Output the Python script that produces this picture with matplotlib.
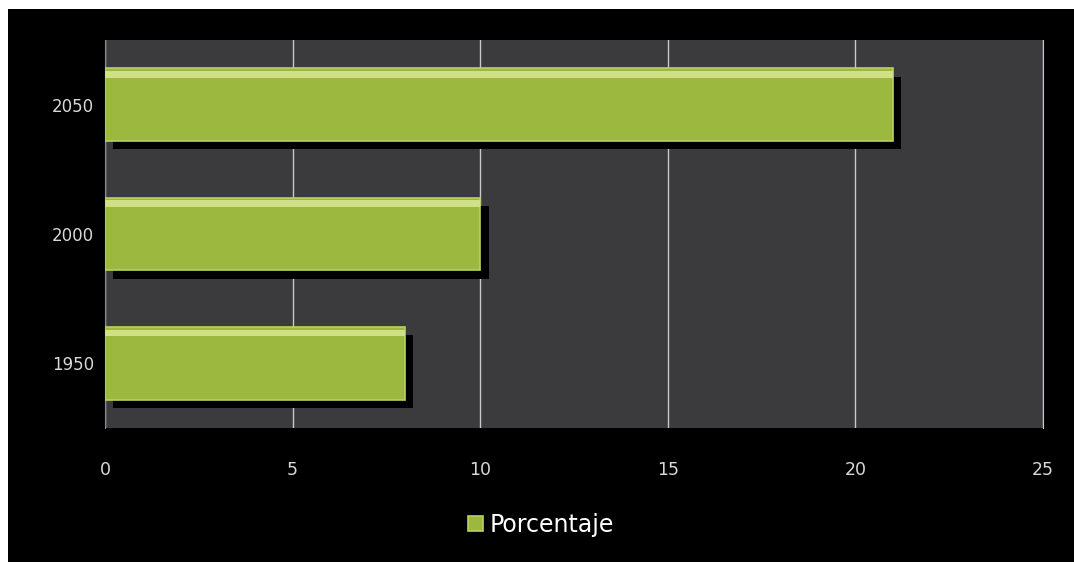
import matplotlib
matplotlib.use('Agg')
import matplotlib.pyplot as plt
import matplotlib.patheffects as pe
from matplotlib.patches import Rectangle

# Data
years = ['1950', '2000', '2050']
porcentaje = [8, 10, 21]
xticks = [0, 5, 10, 15, 20, 25]

bar_h = 0.56
ypos = list(range(len(years)))

fig = plt.figure(figsize=(10.74, 5.62), dpi=100, facecolor='white')
# black chart area inside a thin white border (left/top)
fig.patches.append(Rectangle((8 / 1074, 0), 1, 1 - 9 / 562, transform=fig.transFigure,
                             facecolor='black', edgecolor='none', zorder=-5))

ax = fig.add_axes([105 / 1074, 1 - 428 / 562, 938 / 1074, 388 / 562])
ax.set_facecolor('#3b3a3d')

# bars with black drop shadow
bars = ax.barh(ypos, porcentaje, height=bar_h, color='#9db83e', edgecolor='#b9d160',
               linewidth=1.2, zorder=3)
for b in bars:
    b.set_path_effects([pe.SimplePatchShadow(offset=(6, -6), shadow_rgbFace='black', alpha=1),
                        pe.Normal()])
# light highlight along the top edge of each bar
ax.barh([y + bar_h / 2 - 0.07 for y in ypos], porcentaje, height=0.05, color='#cfe086',
        zorder=4, align='edge', linewidth=0)

ax.set_xlim(0, 25)
ax.set_ylim(-0.5, 2.5)
ax.set_xticks(xticks)
ax.set_yticks(ypos)
ax.set_yticklabels(years)
ax.grid(axis='x', color='#c8c8c8', linewidth=1, zorder=1)
ax.tick_params(axis='x', colors='#d8d8d8', labelsize=12.5, length=0, pad=24)
ax.tick_params(axis='y', colors='#d8d8d8', labelsize=12, length=0, pad=8)
for s in ['top', 'bottom']:
    ax.spines[s].set_visible(False)
ax.spines['left'].set_color('#8a8a8a')
ax.spines['right'].set_color('#c8c8c8')

leg = ax.legend([bars[0]], ['Porcentaje'], loc='upper center', bbox_to_anchor=(0.465, -0.165),
                frameon=False, fontsize=17, handlelength=0.6, handleheight=0.6,
                handletextpad=0.3, labelcolor='white')

fig.savefig('out.png', dpi=100, facecolor=fig.get_facecolor())
